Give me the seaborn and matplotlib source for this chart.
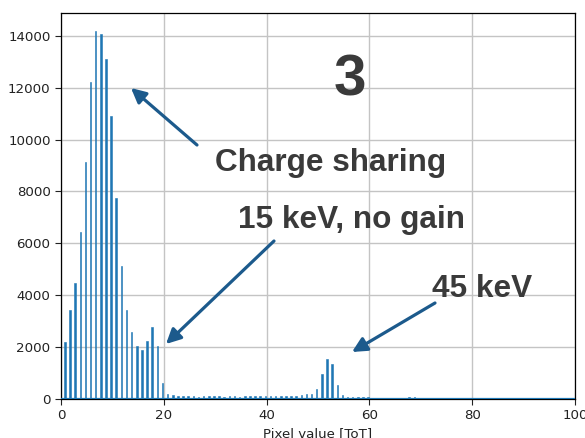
import numpy as np
import pandas as pd
import matplotlib
matplotlib.use("Agg")
import matplotlib.pyplot as plt
import seaborn as sns

# Histogram of pixel ToT values (counts per integer ToT bin)
tot_bins = list(range(70))
counts = [
    2200, 3430, 4460, 6420, 9150, 12210, 14170, 14060, 13100, 10910,
    7730, 5120, 3430, 2600, 2045, 1890, 2220, 2790, 2060, 630,
    180, 150, 110, 100, 100, 100, 90, 100, 110, 100,
    100, 90, 100, 110, 90, 100, 100, 110, 100, 110,
    100, 110, 100, 110, 120, 130, 150, 180, 200, 370,
    960, 1540, 1360, 550, 150, 80, 70, 70, 70, 60,
    0, 0, 0, 0, 0, 0, 0, 60, 60, 0,
]
bin_offset = 0.75

x_ticks = [0, 20, 40, 60, 80, 100]
y_ticks = [0, 2000, 4000, 6000, 8000, 10000, 12000, 14000]

panel_label = "3"
labels = ["Charge sharing", "15 keV, no gain", "45 keV"]

sns.set_style("ticks", {"axes.grid": True, "grid.color": "#c4c4c4",
                        "axes.edgecolor": "black", "xtick.direction": "out",
                        "ytick.direction": "out"})

W, H = 585, 438
fig = plt.figure(figsize=(W / 100, H / 100), dpi=100)
ax = fig.add_axes([61 / W, 1 - 399 / H, 514 / W, 386 / H])

df = pd.DataFrame({"tot": np.array(tot_bins) + bin_offset, "count": counts})
bar_color = "#1f77b4"
sns.barplot(data=df, x="tot", y="count", native_scale=True, width=0.3,
            color=bar_color, saturation=1, errorbar=None, ax=ax, zorder=3,
            edgecolor=bar_color, linewidth=0.4)
ax.axhline(0, color=bar_color, lw=1.6, zorder=4)

ax.set_xlim(0, 100)
ax.set_ylim(0, 14880)
ax.set_xticks(x_ticks)
ax.set_yticks(y_ticks)
ax.tick_params(labelsize=9.6, length=4, width=0.8, colors="#222222")
ax.grid(True, color="#c4c4c4", lw=1.0, zorder=0)
ax.set_axisbelow(True)
for s in ax.spines.values():
    s.set_color("black")
    s.set_linewidth(0.9)
ax.set_xlabel("Pixel value [ToT]", fontsize=9.6, labelpad=3, color="#222222")
ax.set_ylabel("")

txt_color = "#3a3a3a"
font = ["Liberation Sans", "DejaVu Sans"]


def fig_xy(px, py):
    return px / W, 1 - py / H


fig.text(*fig_xy(350, 81), panel_label, fontsize=42, fontweight="bold",
         color=txt_color, ha="center", va="center", family=font)
fig.text(*fig_xy(215, 171), labels[0], fontsize=22.7, fontweight="bold",
         color=txt_color, ha="left", va="baseline", family=font)
fig.text(*fig_xy(238, 228), labels[1], fontsize=22.7, fontweight="bold",
         color=txt_color, ha="left", va="baseline", family=font)
fig.text(*fig_xy(432, 297), labels[2], fontsize=22.7, fontweight="bold",
         color=txt_color, ha="left", va="baseline", family=font)

arrow_color = "#1c5a8c"
arrows = [((197, 145), (131, 88)), ((274, 241), (166, 344)), ((435, 303), (352, 352))]
for (tx, ty), (hx, hy) in arrows:
    ax.annotate("", xy=(hx, H - hy), xycoords="figure pixels",
                xytext=(tx, H - ty), textcoords="figure pixels",
                arrowprops=dict(arrowstyle="-|>", color=arrow_color, lw=2.3,
                                mutation_scale=22, shrinkA=0, shrinkB=0))

fig.savefig("out.png", dpi=100)
